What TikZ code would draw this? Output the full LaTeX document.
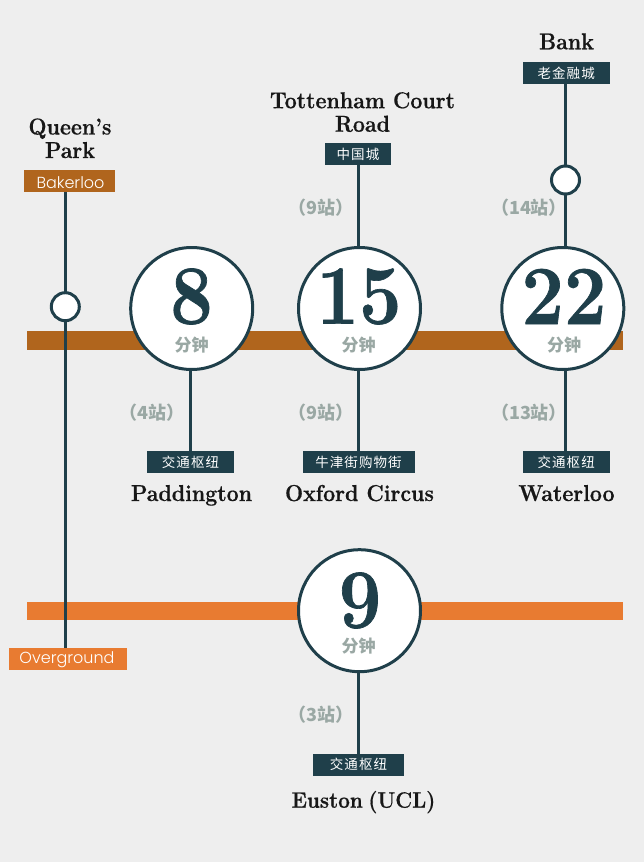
\documentclass[tikz,border=0pt]{standalone}
\usepackage{fontspec}
\setmainfont{Latin Modern Roman}
\newfontfamily\dispf[FakeStretch=0.93,BoldFeatures={FakeBold=0.6}]{Latin Modern Roman}
\newfontfamily\numf[FakeStretch=0.9,BoldFeatures={FakeBold=0.8}]{Latin Modern Roman}
\newfontfamily\cjkf{Noto Sans CJK SC}
\newfontfamily\cjkwide[LetterSpace=8]{Noto Sans CJK SC}
\newfontfamily\linef{Poppins Light}
\definecolor{bgc}{HTML}{EEEEEE}
\definecolor{darkc}{HTML}{1F3F4A}
\definecolor{brownc}{HTML}{B0651D}
\definecolor{orangec}{HTML}{E87B31}
\definecolor{greyc}{HTML}{9AA8A4}
\definecolor{blackc}{HTML}{171717}
\tikzset{
 x=1pt,y=-1pt,
 bar/.style={anchor=west,minimum height=18.5pt,inner sep=0pt,outer sep=0pt},
 conn/.style={draw=darkc,line width=3pt},
 bigc/.style={circle,draw=darkc,fill=white,line width=3pt,minimum size=122pt,inner sep=0pt},
 smallc/.style={circle,draw=darkc,fill=white,line width=3pt,minimum size=28pt,inner sep=0pt},
 tag/.style={minimum height=22pt,inner sep=0pt,outer sep=0pt,text=white},
 zhtag/.style={tag,fill=darkc,font=\cjkwide\fontsize{13.5}{15}\selectfont},
 entag/.style={tag,font=\linef\fontsize{16}{18}\selectfont},
 station/.style={text=blackc,align=center,inner sep=0pt,anchor=base,font=\dispf\bfseries\fontsize{23}{23.5}\selectfont},
 num/.style={text=darkc,inner sep=0pt,font=\numf\bfseries\fontsize{84}{84}\selectfont},
 mins/.style={text=greyc,inner sep=0pt,font=\cjkf\bfseries\fontsize{17}{17}\selectfont},
 stops/.style={text=greyc,inner sep=0pt,font=\cjkf\bfseries\fontsize{18}{18}\selectfont},
}
\begin{document}
\begin{tikzpicture}
\path[use as bounding box,fill=bgc] (0,0) rectangle (644,862);
% bars
\node[bar,fill=brownc,minimum width=596pt] (bakerbar) at (27,340.7) {};
\node[bar,fill=orangec,minimum width=596pt] (overbar) at (27,611) {};
% line tags
\node[tag,fill=brownc,minimum width=91pt] (bakerloo) at (69,181) {};
\node[tag,fill=orangec,minimum width=118pt] (overground) at (67.5,659) {};
\node[entag] (bakertext) at (70.5,182.5) {Bakerloo};
\node[entag] (overtext) at (67,659.5) {Overground};
\node[zhtag,minimum width=66pt] (chinatown) at (358,154.3) {中国城};
\node[zhtag,minimum width=87pt] (city) at (566.2,73) {老金融城};
\node[zhtag,minimum width=87pt] (hubp) at (190.5,462) {交通枢纽};
\node[zhtag,minimum width=112pt] (oxfordst) at (358.5,462) {牛津街购物街};
\node[zhtag,minimum width=87pt] (hubw) at (566.2,462) {交通枢纽};
\node[zhtag,minimum width=91pt] (hube) at (358.5,764.5) {交通枢纽};
% circles
\coordinate (xqp) at (65.3,0);
\coordinate (xp) at (190.7,0);
\coordinate (x15) at (358.4,0);
\coordinate (x22) at (565.7,0);
\coordinate (qpc) at (65.3,306.7);
\coordinate (bkc) at (565.5,180);
\coordinate (pmid) at (190.7,340);
\coordinate (emid) at (358.4,611);
\draw[conn] (bakerloo.south -| xqp) -- (overground.north -| xqp);
\draw[conn] (chinatown.south -| x15) -- (oxfordst.north -| x15);
\draw[conn] (city.south -| x22) -- (hubw.north -| x22);
\draw[conn] (pmid) -- (hubp.north -| xp);
\draw[conn] (emid) -- (hube.north -| x15);
\node[smallc] (qpark) at (qpc) {};
\node[smallc] (bankc) at (bkc) {};
\node[bigc] (c8) at (191.7,308.5) {};
\node[bigc] (c15) at (359.5,308.5) {};
\node[bigc] (c22) at (562.8,308.5) {};
\node[bigc] (c9) at (359.5,610.7) {};
% numbers
\node[num] (n8) at (191.5,296.5) {8};
\node[num] (n15) at (359,296.5) {15};
\node[num] (n22) at (564,296.5) {22};
\node[num] (n9) at (360,600.5) {9};
\node[mins] (m8) at (191.5,345) {分钟};
\node[mins] (m15) at (358.5,345) {分钟};
\node[mins] (m22) at (564,345) {分钟};
\node[mins] (m9) at (358.5,646) {分钟};
% stops
\node[stops] (s1) at (321,208) {（9站）};
\node[stops] (s2) at (529,208) {（14站）};
\node[stops] (s3) at (152,413) {（4站）};
\node[stops] (s4) at (321,413) {（9站）};
\node[stops] (s5) at (529,413) {（13站）};
\node[stops] (s6) at (321,715) {（3站）};
% stations
\node[station] (queens) at (70,158) {Queen’s\\Park};
\node[station] (tott) at (362.5,131.7) {Tottenham Court\\Road};
\node[station] (bank) at (566.5,49.3) {Bank};
\node[station] (padd) at (191.5,501) {Paddington};
\node[station] (oxf) at (359.5,501) {Oxford Circus};
\node[station] (wat) at (566.5,501) {Waterloo};
\node[station] (eus) at (363.5,807.7) {\fontsize{22.3}{23}\selectfont Euston\hspace{5.5pt}(UCL)};
\end{tikzpicture}
\end{document}
